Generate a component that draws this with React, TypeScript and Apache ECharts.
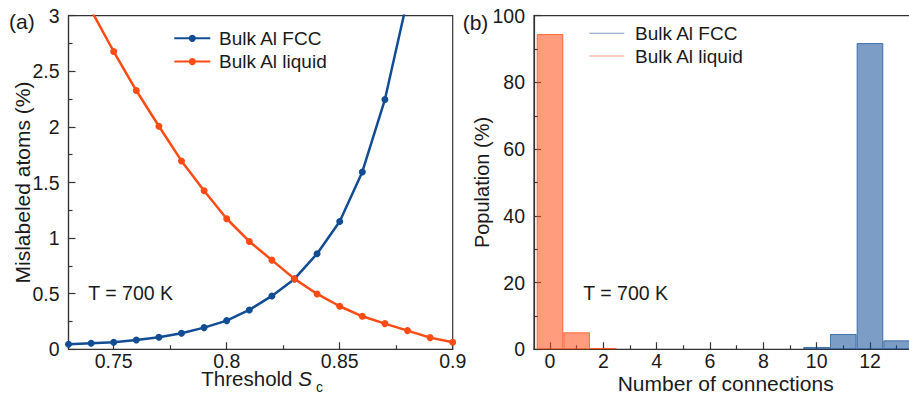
import React, { useEffect, useRef } from "react";
import * as echarts from "echarts";

// ---- data ----
const thresholds = [0.73, 0.74, 0.75, 0.76, 0.77, 0.78, 0.79, 0.8, 0.81, 0.82, 0.83, 0.84, 0.85, 0.86, 0.87, 0.88, 0.89, 0.9];
const fccMislabeled = [0.045, 0.054, 0.063, 0.084, 0.108, 0.144, 0.195, 0.258, 0.354, 0.48, 0.633, 0.86, 1.15, 1.595, 2.246, 3.15];
const liquidMislabeled = [3.45, 3.05, 2.678, 2.327, 2.006, 1.694, 1.426, 1.174, 0.97, 0.802, 0.633, 0.498, 0.387, 0.297, 0.231, 0.168, 0.105, 0.063];

const liquidConnections = [0, 1, 2];
const liquidPopulation = [94.5, 5.1, 0.4];
const fccConnections = [10, 11, 12, 13];
const fccPopulation = [0.7, 4.6, 91.8, 2.7];

const thresholdMajorTicks = [0.75, 0.8, 0.85, 0.9];
const thresholdMinorTicks = [0.775, 0.825, 0.875];
const connectionMajorTicks = [0, 2, 4, 6, 8, 10, 12, 14];
const connectionTickLabels = [0, 2, 4, 6, 8, 10, 12];
const connectionMinorTicks = [1, 3, 5, 7, 9, 11, 13];

const seriesNames = ["Bulk Al FCC", "Bulk Al liquid"];
const HIST = " (hist)";

// ---- style ----
const FONT = "'Liberation Sans', Arial, Helvetica, sans-serif";
const TEXT = "#1a1a1a";
const AXIS = "#333333";
const BLUE = "#114c95";
const ORANGE = "#ff4b14";
const BLUE_FILL = "rgba(17,76,149,0.55)";
const BLUE_EDGE = "rgba(17,76,149,0.7)";
const ORANGE_FILL = "rgba(255,75,20,0.55)";
const ORANGE_EDGE = "rgba(255,75,20,0.75)";

function buildOption() {
  const axisLine = { show: true, onZero: false, lineStyle: { color: AXIS, width: 1.2 } };
  const tickLabel = { fontSize: 19.5, fontFamily: FONT, color: TEXT };

  const majorX = (gridIndex: number, min: number, max: number, ticks: number[], labels: number[], extra: any) => ({
    type: "value",
    gridIndex,
    position: "bottom",
    min,
    max,
    nameMoveOverlap: false,
    axisLine,
    axisTick: { show: true, inside: true, length: 7, customValues: ticks, lineStyle: { color: AXIS, width: 1.2 } },
    axisLabel: { ...tickLabel, lineHeight: 16, margin: 4, customValues: labels },
    splitLine: { show: false },
    ...extra,
  });
  const minorX = (gridIndex: number, min: number, max: number, ticks: number[]) => ({
    type: "value",
    gridIndex,
    position: "bottom",
    min,
    max,
    axisLine: { show: false },
    axisTick: { show: true, inside: true, length: 4, customValues: ticks, lineStyle: { color: AXIS, width: 1.2 } },
    axisLabel: { show: false, customValues: ticks },
    splitLine: { show: false },
  });
  const yAx = (gridIndex: number, max: number, interval: number, extra: any) => ({
    type: "value",
    gridIndex,
    min: 0,
    max,
    interval,
    nameMoveOverlap: false,
    axisLine,
    axisTick: { show: true, inside: true, length: 7, lineStyle: { color: AXIS, width: 1.2 } },
    minorTick: { show: true, splitNumber: 2, length: 4, lineStyle: { color: AXIS, width: 1.2 } },
    axisLabel: { ...tickLabel, margin: 9 },
    splitLine: { show: false },
    minorSplitLine: { show: false },
    nameLocation: "middle",
    ...extra,
  });

  return {
    animation: false,
    backgroundColor: "#ffffff",
    textStyle: { fontFamily: FONT },
    grid: [
      { left: 68.5, top: 15.7, width: 384.2, height: 333.6, show: true, borderColor: AXIS, borderWidth: 1.2, containLabel: false, outerBoundsMode: "none" },
      { left: 534, top: 15.7, width: 389.3, height: 333.6, show: true, borderColor: AXIS, borderWidth: 1.2, containLabel: false, outerBoundsMode: "none" },
    ],
    xAxis: [
      majorX(0, 0.73, 0.9, thresholdMajorTicks, thresholdMajorTicks, {
        name: "{n|Threshold }{i|S}",
        nameLocation: "middle",
        nameGap: 23.5,
        nameTextStyle: {
          color: TEXT,
          padding: [0, 8, 0, 0],
          rich: {
            n: { fontSize: 20.5, fontFamily: FONT, color: TEXT, lineHeight: 12 },
            i: { fontSize: 20.5, fontFamily: FONT, color: TEXT, fontStyle: "italic", lineHeight: 12 },
          },
        },
      }),
      minorX(0, 0.73, 0.9, thresholdMinorTicks),
      majorX(1, -0.6, 14, connectionMajorTicks, connectionTickLabels, {
        name: "Number of connections",
        nameLocation: "middle",
        nameGap: 24,
        nameTextStyle: { fontSize: 21, fontFamily: FONT, color: TEXT, padding: [0, 6, 0, 0] },
      }),
      minorX(1, -0.6, 14, connectionMinorTicks),
    ],
    yAxis: [
      yAx(0, 3, 0.5, {
        name: "Mislabeled atoms (%)",
        nameGap: 36,
        nameTextStyle: { fontSize: 21, fontFamily: FONT, color: TEXT },
      }),
      yAx(1, 100, 20, {
        name: "Population (%)",
        nameGap: 42,
        nameTextStyle: { fontSize: 20, fontFamily: FONT, color: TEXT },
      }),
    ],
    legend: [
      {
        orient: "vertical",
        left: 173.3,
        top: 28.8,
        padding: 0,
        itemWidth: 36,
        itemHeight: 9,
        itemGap: 4.3,
        data: seriesNames,
        textStyle: { fontSize: 19, fontFamily: FONT, color: TEXT, padding: [0, 0, 0, 3.7] },
      },
      {
        orient: "vertical",
        left: 589.3,
        top: 23.8,
        padding: 0,
        itemWidth: 35,
        itemHeight: 9,
        itemGap: 3.7,
        data: [
          { name: seriesNames[0] + HIST, icon: "path://M0,0L40,0L40,1.3L0,1.3Z", itemStyle: { color: "#7c9fc4", borderWidth: 0 } },
          { name: seriesNames[1] + HIST, icon: "path://M0,0L40,0L40,1.3L0,1.3Z", itemStyle: { color: "#ff9c84", borderWidth: 0 } },
        ],
        formatter: (name: string) => name.replace(HIST, ""),
        textStyle: { fontSize: 19, fontFamily: FONT, color: TEXT, padding: [0, 0, 0, 5.7] },
      },
    ],
    series: [
      {
        name: seriesNames[0],
        type: "line",
        xAxisIndex: 0,
        yAxisIndex: 0,
        data: fccMislabeled.map((v, i) => [thresholds[i], v]),
        color: BLUE,
        symbol: "circle",
        symbolSize: 7,
        lineStyle: { color: BLUE, width: 2.5 },
        itemStyle: { color: BLUE },
        clip: true,
      },
      {
        name: seriesNames[1],
        type: "line",
        xAxisIndex: 0,
        yAxisIndex: 0,
        data: liquidMislabeled.map((v, i) => [thresholds[i], v]),
        color: ORANGE,
        symbol: "circle",
        symbolSize: 7,
        lineStyle: { color: ORANGE, width: 2.5 },
        itemStyle: { color: ORANGE },
        clip: true,
      },
      {
        name: seriesNames[0] + HIST,
        type: "bar",
        xAxisIndex: 2,
        yAxisIndex: 1,
        data: fccPopulation.map((v, i) => [fccConnections[i], v]),
        barWidth: "100%",
        barGap: "-100%",
        itemStyle: { color: BLUE_FILL, borderColor: BLUE_EDGE, borderWidth: 1 },
      },
      {
        name: seriesNames[1] + HIST,
        type: "bar",
        xAxisIndex: 2,
        yAxisIndex: 1,
        data: liquidPopulation.map((v, i) => [liquidConnections[i], v]),
        barWidth: "100%",
        barGap: "-100%",
        itemStyle: { color: ORANGE_FILL, borderColor: ORANGE_EDGE, borderWidth: 1 },
      },
    ],
    graphic: [
      { type: "text", x: 9, y: 21, style: { text: "(a)", fontSize: 21, fontFamily: FONT, fill: TEXT, verticalAlign: "middle" } },
      { type: "text", x: 462.7, y: 22.5, style: { text: "(b)", fontSize: 21, fontFamily: FONT, fill: TEXT, verticalAlign: "middle" } },
      { type: "text", x: 88.3, y: 292.5, style: { text: "T = 700 K", fontSize: 19.5, fontFamily: FONT, fill: TEXT, verticalAlign: "middle" } },
      { type: "text", x: 583.3, y: 292.5, style: { text: "T = 700 K", fontSize: 19.5, fontFamily: FONT, fill: TEXT, verticalAlign: "middle" } },
      { type: "text", x: 316, y: 387, style: { text: "c", fontSize: 14, fontFamily: FONT, fill: TEXT, verticalAlign: "middle" } },
    ],
  };
}

export default function App() {
  const ref = useRef<HTMLDivElement>(null);
  useEffect(() => {
    document.body.style.margin = "0";
    const chart = echarts.init(ref.current as HTMLDivElement, null, { renderer: "svg" });
    chart.setOption(buildOption() as any);
    return () => chart.dispose();
  }, []);
  return <div ref={ref} style={{ width: 909, height: 395, position: "absolute", left: 0, top: 0, overflow: "hidden" }} />;
}
